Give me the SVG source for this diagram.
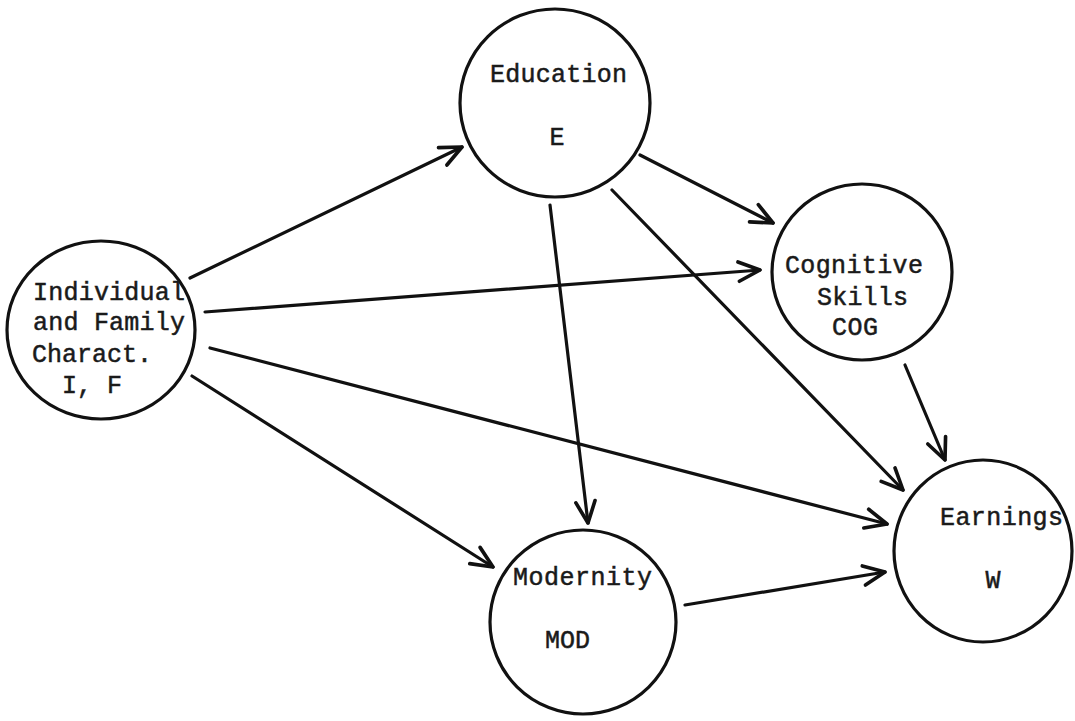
<svg xmlns="http://www.w3.org/2000/svg" width="1075" height="721" viewBox="0 0 1075 721">
<style>
.node{fill:none;stroke:#111;stroke-width:3.2}
.lbl{font-family:"Liberation Mono","DejaVu Sans Mono",monospace;font-size:25px;fill:#1a1a1a;stroke:#1a1a1a;stroke-width:0.5}
.c{text-anchor:middle}
.edge{stroke:#111;stroke-width:3.2;fill:none;stroke-linecap:round;marker-end:url(#arr)}
</style>
<defs>
<marker id="arr" markerUnits="userSpaceOnUse" markerWidth="30" markerHeight="30" viewBox="-24 -12 28 24" refX="0" refY="0" orient="auto">
<path d="M-20,-9 L0,0 L-20,9" fill="none" stroke="#111" stroke-width="3.4" stroke-linecap="round" stroke-linejoin="round"/>
</marker>
</defs>
<rect width="1075" height="721" fill="#fff"/>
<g id="connectors">
<line class="edge" x1="190" y1="278" x2="462" y2="147"/>
<line class="edge" x1="205" y1="312" x2="760" y2="270"/>
<line class="edge" x1="210" y1="348" x2="887" y2="524"/>
<line class="edge" x1="192" y1="376" x2="493" y2="567"/>
<line class="edge" x1="640" y1="155" x2="773" y2="223"/>
<line class="edge" x1="550" y1="205" x2="588" y2="523"/>
<line class="edge" x1="612" y1="190" x2="903" y2="490"/>
<line class="edge" x1="905" y1="365" x2="945" y2="460"/>
<line class="edge" x1="685" y1="605" x2="885" y2="572"/>
</g>
<g id="node-IF">
<ellipse class="node" cx="101" cy="330" rx="94" ry="89"/>
<text class="lbl" x="33" y="300" textLength="152">Individual</text>
<text class="lbl" x="33" y="330" textLength="152">and Family</text>
<text class="lbl" x="32" y="362">Charact.</text>
<text class="lbl" x="62" y="393">I, F</text>
</g>
<g id="node-E">
<ellipse class="node" cx="555" cy="103" rx="95" ry="94"/>
<text class="lbl" x="490" y="82" textLength="137">Education</text>
<text class="lbl c" x="557" y="145">E</text>
</g>
<g id="node-COG">
<ellipse class="node" cx="862" cy="272" rx="90" ry="88"/>
<text class="lbl" x="785" y="273" textLength="138">Cognitive</text>
<text class="lbl" x="817" y="305" textLength="91">Skills</text>
<text class="lbl" x="832" y="335" textLength="46">COG</text>
</g>
<g id="node-W">
<ellipse class="node" cx="983" cy="551" rx="89" ry="91"/>
<text class="lbl" x="940" y="525" textLength="123">Earnings</text>
<text class="lbl c" x="993" y="588">W</text>
</g>
<g id="node-MOD">
<ellipse class="node" cx="583" cy="622" rx="93" ry="92"/>
<text class="lbl" x="513" y="585" textLength="139">Modernity</text>
<text class="lbl" x="545" y="648" textLength="45">MOD</text>
</g>
</svg>
